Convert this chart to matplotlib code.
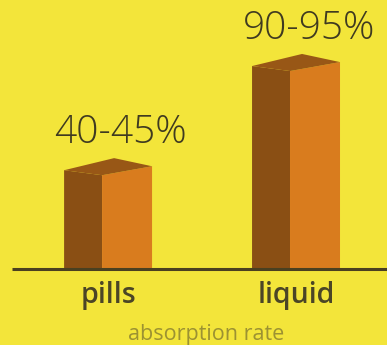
import matplotlib
matplotlib.use('Agg')
import matplotlib.pyplot as plt

# data
categories = ['pills', 'liquid']
values = [45, 95]
value_labels = ['40-45%', '90-95%']
axis_title = 'absorption rate'

# colours
BG = '#F3E53A'
DARK = '#8A4F14'
ORANGE = '#D97C1E'
TOP = '#985716'
TEXT = '#4B4526'
SUB = '#9C9232'

fig = plt.figure(figsize=(3.87, 3.45), dpi=100)
fig.patch.set_facecolor(BG)
ax = fig.add_axes([0, 0, 1, 1])
ax.set_facecolor(BG)
ax.set_xlim(-0.543, 1.516)
ax.set_ylim(-36.5, 129.1)
ax.axis('off')

wl, wr = 0.202, 0.266   # left/right face widths
dl, dr = 2.4, 4.3       # top slope offsets

for i, (cat, v, lab) in enumerate(zip(categories, values, value_labels)):
    # left (shaded) face
    ax.fill([i - wl, i, i, i - wl], [0, 0, v, v + dl], color=DARK, lw=0)
    # right face
    ax.fill([i, i + wr, i + wr, i], [0, 0, v + dr, v], color=ORANGE, lw=0)
    # top face
    ax.fill([i, i - wl, i - wl + wr, i + wr], [v, v + dl, v + dl + dr + 1.5, v + dr],
            color=TOP, lw=0)
    ax.text(i + 0.1, v + 11, lab, ha='center', va='bottom', fontsize=28,
            family='Open Sans', weight='light', color='#3F3A20')
    ax.text(i + 0.035, -6, cat, ha='center', va='top', fontsize=20.5,
            family='Open Sans', weight='semibold', color=TEXT)

ax.text(0.553, -26.5, axis_title, ha='center', va='top', fontsize=15.5,
        family='Open Sans', color=SUB)

ax.plot([-0.479, 1.516], [0, 0], color='#4A4020', lw=2.2, zorder=5,
        solid_capstyle='butt')

fig.savefig('out.png', dpi=100, facecolor=BG)
